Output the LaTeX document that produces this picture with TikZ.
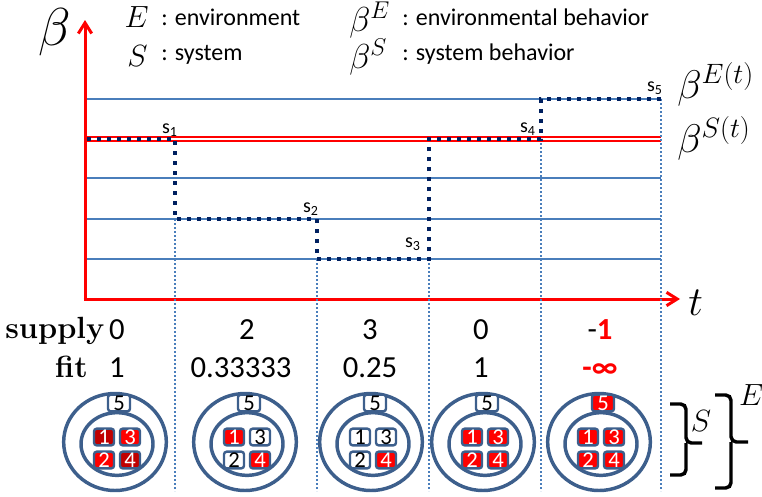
\RequirePackage{fix-cm}
\documentclass[tikz,border=0pt]{standalone}
\usepackage[no-math]{fontspec}
\setmainfont{Carlito}
\usetikzlibrary{arrows.meta,shapes.geometric}
\definecolor{axred}{RGB}{255,0,0}
\definecolor{gridblue}{RGB}{74,126,187}
\definecolor{navy}{RGB}{0,32,96}
\definecolor{ringblue}{RGB}{61,95,140}
\definecolor{boxred}{RGB}{255,0,0}
\definecolor{boxdark}{RGB}{192,0,0}
\newcommand{\ringset}[7]{%
  \node[ring, minimum width=77pt, minimum height=72.75pt] (#1O) at ({#2-2},442) {};
  \node[ring, minimum width=54pt, minimum height=47pt] (#1I) at (#2,444) {};
  \node[#7, minimum width=16.5pt] (#15) at ({#2+2},403) {5};
  \node[#3] (#11) at ({#2-13},437) {1};
  \node[#4] (#13) at ({#2+13},437) {3};
  \node[#5] (#12) at ({#2-13},460) {2};
  \node[#6] (#14) at ({#2+13},460) {4};
}
\begin{document}
\begin{tikzpicture}[x=0.75pt,y=-0.75pt,
  axis/.style={draw=axred, line width=2.25pt, -{Straight Barb[length=8pt,width=10pt]}},
  gridline/.style={draw=gridblue, line width=1.5pt},
  vdot/.style={draw=gridblue, line width=1.2pt, dash pattern=on 1.2pt off 1.8pt},
  traj/.style={draw=navy, line width=3pt, dash pattern=on 3pt off 4.5pt},
  sysline/.style={draw=axred, line width=1.1pt, double=white, double distance=1.6pt},
  ring/.style={draw=ringblue, line width=2.6pt, ellipse, inner sep=0pt},
  bx/.style={draw=ringblue, line width=1.8pt, rounded corners=2pt, minimum width=15pt, minimum height=12.5pt, inner sep=0pt, font=\fontsize{17}{17}\selectfont},
  rb/.style={bx, fill=boxred, text=white},
  db/.style={bx, fill=boxdark, text=white},
  wb/.style={bx, fill=white, text=black},
  lbl/.style={font=\fontsize{18}{20}\selectfont, inner sep=0pt, anchor=base west},
  num/.style={font=\fontsize{23}{26}\selectfont, inner sep=0pt, anchor=base},
  slbl/.style={font=\fontsize{15}{16}\selectfont, inner sep=0pt, anchor=south east},
  brc/.style={draw=black, line width=2.6pt, rounded corners=4pt}
]
\useasboundingbox (0,0) rectangle (762,496);

% legend
\node[inner sep=0pt, anchor=base west, font=\fontsize{40}{44}\selectfont] (bigbeta) at (38,45) {$\beta$};
\node[inner sep=0pt, anchor=base east, font=\fontsize{23}{26}\selectfont] (legE) at (149,27) {$E$};
\node[lbl] (legEt) at (161,25) {: environment};
\node[inner sep=0pt, anchor=base east, font=\fontsize{23}{26}\selectfont] (legS) at (148,66) {$S$};
\node[lbl] (legSt) at (161,60) {: system};
\node[inner sep=0pt, anchor=base west, font=\fontsize{26}{28}\selectfont] (legbE) at (349,31) {$\beta^E$};
\node[lbl] (legbEt) at (402,25) {: environmental behavior};
\node[inner sep=0pt, anchor=base west, font=\fontsize{26}{28}\selectfont] (legbS) at (349,68) {$\beta^S$};
\node[lbl] (legbSt) at (402,60) {: system behavior};

% axes
\coordinate (O) at (85,299);
\coordinate (ytip) at (85,20);
\coordinate (xtip) at (680,299);
\draw[axis] (O) -- (ytip);
\draw[axis] ([xshift=-1.1pt]O) -- (xtip);
\node[inner sep=0pt, anchor=base west, font=\fontsize{31}{34}\selectfont] (tlab) at (688,315) {$t$};

% grid lines
\coordinate (g1a) at (87,99);  \coordinate (g1b) at (661,99);
\coordinate (g2a) at (87,139); \coordinate (g2b) at (661,139);
\coordinate (g3a) at (87,178); \coordinate (g3b) at (661,178);
\coordinate (g4a) at (87,219); \coordinate (g4b) at (661,219);
\coordinate (g5a) at (87,259); \coordinate (g5b) at (661,259);
\draw[gridline] (g1a) -- (g1b);
\draw[gridline] (g3a) -- (g3b);
\draw[gridline] (g4a) -- (g4b);
\draw[gridline] (g5a) -- (g5b);
\draw[sysline] (g2a) -- (g2b);

\node[inner sep=0pt, anchor=base west, font=\fontsize{30}{32}\selectfont] (bEt) at (677,98) {$\beta^{E(t)}$};
\node[inner sep=0pt, anchor=base west, font=\fontsize{30}{32}\selectfont] (bSt) at (677,152) {$\beta^{S(t)}$};

% trajectory points
\coordinate (p0) at (87,139);
\coordinate (s1p) at (175,139);
\coordinate (p2) at (175,219);
\coordinate (s2p) at (317,219);
\coordinate (p4) at (317,259);
\coordinate (s3p) at (429,259);
\coordinate (p6) at (429,139);
\coordinate (s4p) at (541,139);
\coordinate (p8) at (541,99);
\coordinate (s5p) at (661,99);

% vertical dotted lines
\coordinate (v1) at (175,491);
\coordinate (v2) at (317,491);
\coordinate (v3) at (429,491);
\coordinate (v4) at (541,491);
\coordinate (v5) at (661,491);
\draw[vdot] (p2) -- (v1);
\draw[vdot] (p4) -- (v2);
\draw[vdot] (s3p) -- (v3);
\draw[vdot] (s4p) -- (v4);
\draw[vdot] (s5p) -- (v5);

\draw[traj] (p0) -- (s1p) -- (p2) -- (s2p) -- (p4) -- (s3p) -- (p6) -- (s4p) -- (p8) -- (s5p);

\node[slbl] (s1) at (178,137) {s\textsubscript{1}};
\node[slbl] (s2) at (319,216) {s\textsubscript{2}};
\node[slbl] (s3) at (421,251) {s\textsubscript{3}};
\node[slbl] (s4) at (536,136) {s\textsubscript{4}};
\node[slbl] (s5) at (663,95) {s\textsubscript{5}};

% supply / fit
\node[inner sep=0pt, anchor=base east, font=\fontsize{23}{26}\selectfont] (supply) at (105,338) {$\mathbf{supply}$};
\node[inner sep=0pt, anchor=base east, font=\fontsize{23}{26}\selectfont] (fit) at (88,377) {$\mathbf{fit}$};
\node[num] (sup1) at (117,339) {0};
\node[num] (sup2) at (247,339) {2};
\node[num] (sup3) at (370,339) {3};
\node[num] (sup4) at (481,339) {0};
\node[num] (sup5) at (600,339) {-\textcolor{axred}{\bfseries 1}};
\node[num] (fit1) at (117,377) {1};
\node[num] (fit2) at (241,377) {0.33333};
\node[num] (fit3) at (370,377) {0.25};
\node[num] (fit4) at (481,377) {1};
\node[num, text=axred, font=\fontsize{23}{26}\selectfont\bfseries] (fit5) at (600,377) {-∞};

% rings
\ringset{a}{117}{db}{rb}{rb}{db}{wb}
\ringset{b}{247}{rb}{wb}{wb}{rb}{wb}
\ringset{c}{373}{wb}{wb}{wb}{rb}{wb}
\ringset{d}{485}{rb}{rb}{rb}{rb}{wb}
\ringset{e}{601}{rb}{rb}{rb}{rb}{rb}

% braces
\coordinate (bs1) at (670,404); \coordinate (bs2) at (670,475);
\coordinate (bsm) at (686,443); \coordinate (bst) at (702,443);
\draw[brc] (bs1) -- (686,404) -- (bsm) -- (bst);
\draw[brc] (bs2) -- (686,475) -- (bsm);
\node[inner sep=0pt, font=\fontsize{23}{26}\selectfont] (Slab) at (701,421) {$S$};
\coordinate (be1) at (715,395); \coordinate (be2) at (715,488);
\coordinate (bem) at (731,442); \coordinate (bet) at (748,442);
\draw[brc] (be1) -- (731,395) -- (bem) -- (bet);
\draw[brc] (be2) -- (731,488) -- (bem);
\node[inner sep=0pt, font=\fontsize{23}{26}\selectfont] (Elab) at (751,395) {$E$};
\end{tikzpicture}
\end{document}
